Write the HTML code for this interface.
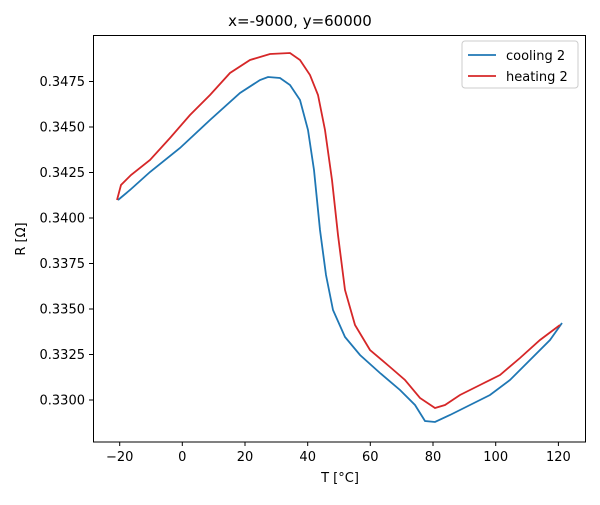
<!DOCTYPE html>
<html><head><meta charset="utf-8"><style>body{margin:0;background:#fff}</style></head><body>
<svg width="600" height="500" xmlns="http://www.w3.org/2000/svg" font-family="'DejaVu Sans','Liberation Sans',sans-serif" font-size="13">
<rect width="600" height="500" fill="#fff"/>
<text x="300" y="26" text-anchor="middle" font-size="15">x=-9000, y=60000</text>
<g stroke="#000" stroke-width="1">
<line x1="119.7" y1="442" x2="119.7" y2="446"/><line x1="182.3" y1="442" x2="182.3" y2="446"/><line x1="245" y1="442" x2="245" y2="446"/><line x1="307.7" y1="442" x2="307.7" y2="446"/><line x1="370.3" y1="442" x2="370.3" y2="446"/><line x1="433" y1="442" x2="433" y2="446"/><line x1="495.7" y1="442" x2="495.7" y2="446"/><line x1="558.4" y1="442" x2="558.4" y2="446"/>
<line x1="89" y1="81.5" x2="93.5" y2="81.5"/><line x1="89" y1="127" x2="93.5" y2="127"/><line x1="89" y1="172.5" x2="93.5" y2="172.5"/><line x1="89" y1="218" x2="93.5" y2="218"/><line x1="89" y1="263.5" x2="93.5" y2="263.5"/><line x1="89" y1="309" x2="93.5" y2="309"/><line x1="89" y1="354.5" x2="93.5" y2="354.5"/><line x1="89" y1="400" x2="93.5" y2="400"/>
</g>
<g text-anchor="middle" font-size="13">
<text x="119.7" y="461">−20</text><text x="182.3" y="461">0</text><text x="245" y="461">20</text><text x="307.7" y="461">40</text><text x="370.3" y="461">60</text><text x="433" y="461">80</text><text x="495.7" y="461">100</text><text x="558.4" y="461">120</text>
</g>
<g text-anchor="end" font-size="13">
<text x="85" y="86">0.3475</text><text x="85" y="131.5">0.3450</text><text x="85" y="177">0.3425</text><text x="85" y="222.5">0.3400</text><text x="85" y="268">0.3375</text><text x="85" y="313.5">0.3350</text><text x="85" y="359">0.3325</text><text x="85" y="404.5">0.3300</text>
</g>
<text x="340" y="482" text-anchor="middle">T [°C]</text>
<text transform="translate(25,239) rotate(-90)" text-anchor="middle">R [Ω]</text>
<polyline fill="none" stroke="#1f77b4" stroke-width="1.8" points="118,200 130,190 150,172 180,148 210,120 240,93 260,80 268,77 280,78 290,85 300,100 308,130 314,170 320,230 326,275 333,310 345,337 360,355 380,373 400,390 415,405 425,421 435,422 450,415 470,405 490,395 510,380 530,360 550,340 562,323"/>
<polyline fill="none" stroke="#d62728" stroke-width="1.8" points="117,200 121,185 131,175 150,160 170,138 190,115 210,95 230,73 250,60 270,54 290,53 300,60 310,75 318,95 325,130 332,180 338,235 345,290 355,325 370,350 390,367 405,380 420,398 435,408 445,405 460,395 480,385 500,375 520,358 540,340 560,325"/>
<rect x="93.5" y="35.5" width="492" height="406.5" fill="none" stroke="#000" stroke-width="1"/>
<rect x="462" y="41" width="116" height="47" rx="3" fill="#fff" stroke="#ccc"/>
<line x1="468" y1="55" x2="496" y2="55" stroke="#1f77b4" stroke-width="1.8"/>
<line x1="468" y1="76" x2="496" y2="76" stroke="#d62728" stroke-width="1.8"/>
<text x="506" y="60">cooling 2</text>
<text x="506" y="81">heating 2</text>
</svg>
</body></html>
